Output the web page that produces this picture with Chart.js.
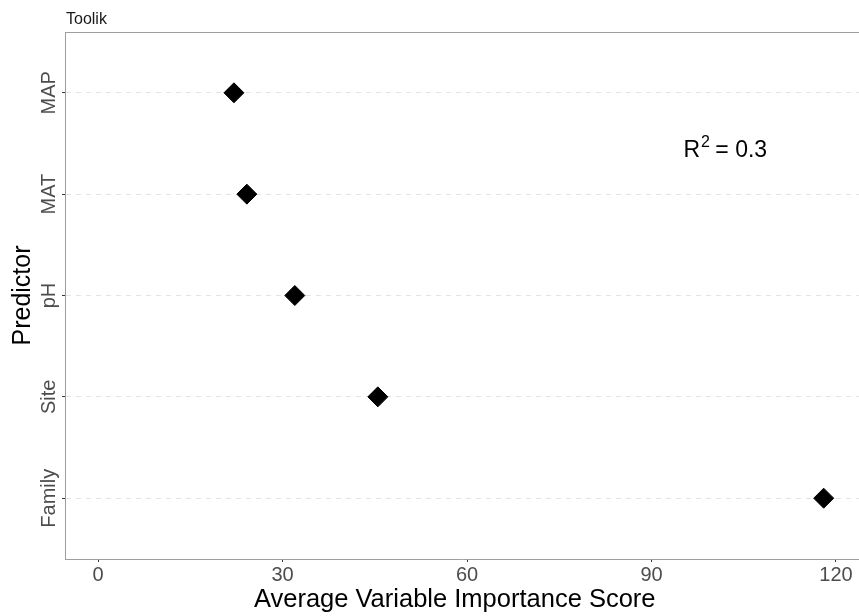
<!DOCTYPE html>
<html>
<head>
<meta charset="utf-8">
<script src="https://cdn.jsdelivr.net/npm/chart.js@4/dist/chart.umd.min.js"></script>
<style>
  html, body { margin: 0; padding: 0; background: #ffffff; }
  #wrap { width: 859px; height: 616px; }
</style>
</head>
<body>
<div id="wrap"><canvas id="c" width="859" height="616"></canvas></div>
<script>
// ---- data ----
const panelTitle = 'Toolik';
const categories = ['Family', 'Site', 'pH', 'MAT', 'MAP'];   // bottom -> top
const importance = [118.0, 45.5, 32.0, 24.2, 22.1];
const xTicks = [0, 30, 60, 90, 120];
const r2Text = { base: 'R', sup: '2', rest: ' = 0.3', x: 102, y: 4.46 };
const xTitle = 'Average Variable Importance Score';
const yTitle = 'Predictor';

const FONT = '"Liberation Sans", Arial, Helvetica, sans-serif';
const points = categories.map((c, i) => ({ x: importance[i], y: i + 1 }));

const decor = {
  id: 'decor',
  afterDraw(chart) {
    const { ctx, chartArea, scales } = chart;
    ctx.save();
    // top panel border
    ctx.strokeStyle = '#9e9e9e';
    ctx.lineWidth = 1;
    ctx.beginPath();
    ctx.moveTo(chartArea.left, chartArea.top + 0.5);
    ctx.lineTo(chartArea.right, chartArea.top + 0.5);
    ctx.stroke();
    // panel title
    ctx.fillStyle = '#1a1a1a';
    ctx.font = '16px ' + FONT;
    ctx.textAlign = 'left';
    ctx.textBaseline = 'alphabetic';
    ctx.fillText(panelTitle, chartArea.left + 1, 24);
    // x axis title (centred on the full ggplot panel, which extends past the crop)
    ctx.fillStyle = '#000000';
    ctx.font = '25.5px ' + FONT;
    ctx.textAlign = 'center';
    ctx.textBaseline = 'middle';
    ctx.fillText(xTitle, scales.x.getPixelForValue(58.0), 600);
    // y category labels (rotated)
    const ys = scales.y;
    ctx.fillStyle = '#4d4d4d';
    ctx.font = '20px ' + FONT;
    ctx.textAlign = 'center';
    ctx.textBaseline = 'middle';
    categories.forEach((c, i) => {
      const py = ys.getPixelForValue(i + 1);
      ctx.save();
      ctx.translate(49, py);
      ctx.rotate(-Math.PI / 2);
      ctx.fillText(c, 0, 0);
      ctx.restore();
    });
    // R^2 annotation
    const px = scales.x.getPixelForValue(r2Text.x);
    const py = ys.getPixelForValue(r2Text.y);
    ctx.fillStyle = '#000000';
    ctx.textBaseline = 'alphabetic';
    ctx.textAlign = 'left';
    ctx.font = '23px ' + FONT;
    const wB = ctx.measureText(r2Text.base).width;
    ctx.font = '16px ' + FONT;
    const wS = ctx.measureText(r2Text.sup).width;
    ctx.font = '23px ' + FONT;
    const wR = ctx.measureText(r2Text.rest).width;
    const total = wB + wS + wR;
    let x0 = px - total / 2;
    const base = py + 9;
    ctx.fillText(r2Text.base, x0, base);
    ctx.font = '16px ' + FONT;
    ctx.fillText(r2Text.sup, x0 + wB + 1, base - 10);
    ctx.font = '23px ' + FONT;
    ctx.fillText(r2Text.rest, x0 + wB + wS, base);
    ctx.restore();
  }
};

new Chart(document.getElementById('c'), {
  type: 'scatter',
  data: {
    datasets: [{
      data: points,
      pointStyle: 'rectRot',
      pointRadius: 10,
      pointHoverRadius: 10,
      backgroundColor: '#000000',
      borderColor: '#000000',
      borderWidth: 1
    }]
  },
  options: {
    responsive: false,
    animation: false,
    devicePixelRatio: 1,
    layout: { autoPadding: false, padding: { top: 32, left: 0, right: 0, bottom: 0 } },
    plugins: { legend: { display: false }, tooltip: { enabled: false }, title: { display: false } },
    scales: {
      x: {
        type: 'linear',
        min: -5.37,
        max: 123.74,
        afterBuildTicks(scale) { scale.ticks = xTicks.map(v => ({ value: v })); },
        afterFit(scale) { scale.height = 57; scale.paddingLeft = 0; scale.paddingRight = 0; },
        grid: { display: true, drawOnChartArea: false, drawTicks: true, tickLength: 3, tickColor: '#333333', tickWidth: 1 },
        border: { display: true, color: '#9e9e9e', width: 1 },
        ticks: { color: '#4d4d4d', font: { family: FONT, size: 20 }, padding: 1, maxRotation: 0, autoSkip: false },
        title: { display: false }
      },
      y: {
        type: 'linear',
        min: 0.4,
        max: 5.6,
        afterBuildTicks(scale) { scale.ticks = categories.map((c, i) => ({ value: i + 1 })); },
        afterFit(scale) { scale.width = 65; scale.paddingTop = 0; scale.paddingBottom = 0; },
        grid: { display: true, drawOnChartArea: true, drawTicks: true, tickLength: 3, color: '#e3e3e3', lineWidth: 1, tickColor: '#333333', tickWidth: 1, tickBorderDash: [] },
        border: { display: true, color: '#9e9e9e', width: 1, dash: [5, 5] },
        ticks: { display: false },
        title: { display: true, text: yTitle, color: '#000000', font: { family: FONT, size: 25 }, padding: { top: 8, bottom: 0 } }
      }
    }
  },
  plugins: [decor]
});
</script>
</body>
</html>
